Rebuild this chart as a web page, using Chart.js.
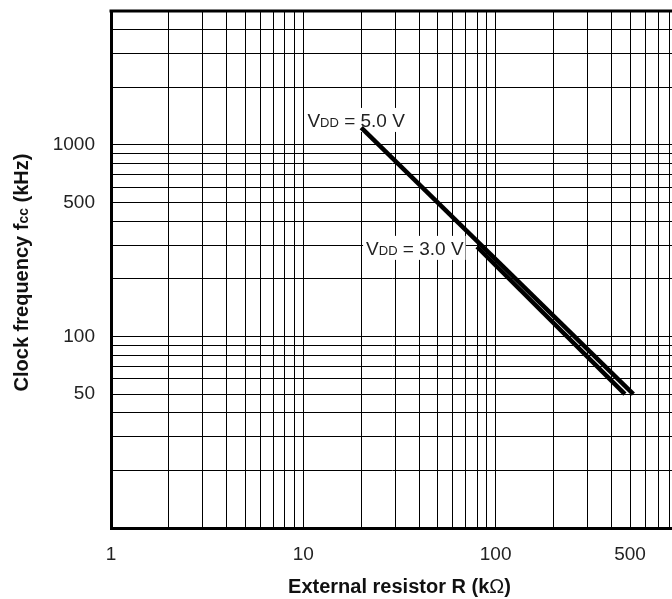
<!DOCTYPE html>
<html lang="en">
<head>
<meta charset="UTF-8">
<title>Clock frequency vs external resistor</title>
<script src="https://cdn.jsdelivr.net/npm/chart.js"></script>
<style>
    html, body { margin: 0; padding: 0; background: #fff; overflow: hidden; }
    #chartBox { position: relative; width: 672px; height: 599px; }
</style>
</head>
<body>

<div id="chartBox"><canvas id="chartContainer"></canvas></div>

<script type="text/javascript">

    // curves: R in kOhm, fcc in kHz
    var resistor5V = [20, 520];
    var freq5V = [1230, 50];
    var resistor3V = [80, 470];
    var freq3V = [294, 50];

    // log axes: every grid line and the ones that carry a number
    var xGrid = [1, 2, 3, 4, 5, 6, 7, 8, 9, 10, 20, 30, 40, 50, 60, 70, 80, 90,
                 100, 200, 300, 400, 500, 600, 700, 800];
    var yGrid = [10, 20, 30, 40, 50, 60, 70, 80, 90, 100, 200, 300, 400, 500, 600, 700, 800, 900,
                 1000, 2000, 3000, 4000, 5000];
    var xTickLabels = [1, 10, 100, 500];
    var yTickLabels = [50, 100, 500, 1000];
    var xMin = 1, xMax = 826;   // the picture is cut just before 1000
    var yMin = 10, yMax = 5000;

    // curve labels and where each text starts (R, fcc)
    var curveLabels = ['5.0 V', '3.0 V'];
    var labelR = [10.5, 21.2];
    var labelF = [1350, 290];

    var fontName = '"Liberation Sans", Arial, sans-serif';

    function toPoints(xs, ys) {
        return xs.map(function (x, i) { return { x: x, y: ys[i] }; });
    }

    // text made of pieces with different fonts (for the subscripts)
    function richWidth(ctx, parts) {
        var w = 0;
        parts.forEach(function (p) { ctx.font = p.f; w += ctx.measureText(p.t).width; });
        return w;
    }
    function drawRich(ctx, parts, x, y) {
        var cx = x;
        ctx.textBaseline = 'alphabetic';
        ctx.textAlign = 'left';
        parts.forEach(function (p) {
            ctx.font = p.f;
            ctx.fillText(p.t, cx, y);
            cx += ctx.measureText(p.t).width;
        });
    }

    // no extra room for the tick labels, the frame sits where the picture has it
    function noPadding(scale) {
        scale.paddingTop = 0;
        scale.paddingBottom = 0;
        scale.paddingLeft = 0;
        scale.paddingRight = 0;
    }

    var textPlugin = {
        id: 'textPlugin',
        beforeDatasetsDraw: function (chart) {
            var ctx = chart.ctx;
            var xs = chart.scales.x, ys = chart.scales.y;
            ctx.save();
            curveLabels.forEach(function (v, i) {
                var px = xs.getPixelForValue(labelR[i]);
                var py = ys.getPixelForValue(labelF[i]);
                var parts = [
                    { t: 'V', f: '19px ' + fontName },
                    { t: 'DD', f: '13px ' + fontName },
                    { t: ' = ' + v, f: '19px ' + fontName }
                ];
                var w = richWidth(ctx, parts);
                ctx.fillStyle = '#fff';
                ctx.fillRect(px - 3, py - 12, w + 5, 24);
                ctx.fillStyle = '#222';
                drawRich(ctx, parts, px, py + 7);
            });
            ctx.restore();
        },
        afterDraw: function (chart) {
            var ctx = chart.ctx;
            var area = chart.chartArea;
            var xs = chart.scales.x;
            ctx.save();

            // top frame line
            ctx.strokeStyle = '#000';
            ctx.lineWidth = 3;
            ctx.beginPath();
            ctx.moveTo(area.left - 1.5, area.top);
            ctx.lineTo(area.right, area.top);
            ctx.stroke();

            // x title, centred on the full 1..1000 decade span
            ctx.fillStyle = '#111';
            var xParts = [
                { t: 'External resistor R (k', f: 'bold 20px ' + fontName },
                { t: 'Ω', f: '20px ' + fontName },
                { t: ')', f: 'bold 20px ' + fontName }
            ];
            var mid = (xs.getPixelForValue(1) + xs.getPixelForValue(1000)) / 2;
            drawRich(ctx, xParts, mid - richWidth(ctx, xParts) / 2, 593);

            // y title, rotated
            var yParts = [
                { t: 'Clock frequency f', f: 'bold 20px ' + fontName },
                { t: 'cc', f: 'bold 14px ' + fontName },
                { t: ' (kHz)', f: 'bold 20px ' + fontName }
            ];
            var cy = (area.top + area.bottom) / 2 + 3;
            ctx.translate(28, cy);
            ctx.rotate(-Math.PI / 2);
            drawRich(ctx, yParts, -richWidth(ctx, yParts) / 2, 0);
            ctx.restore();
        }
    };

    var ctx = document.getElementById('chartContainer');
    var chart = new Chart(ctx, {
        type: 'line',
        data: {
            datasets: [
                {
                    label: 'VDD = 5.0 V',
                    data: toPoints(resistor5V, freq5V),
                    borderColor: '#000',
                    borderWidth: 4.5,
                    borderCapStyle: 'butt',
                    pointRadius: 0,
                    pointHoverRadius: 0,
                    fill: false
                },
                {
                    label: 'VDD = 3.0 V',
                    data: toPoints(resistor3V, freq3V),
                    borderColor: '#000',
                    borderWidth: 4.5,
                    borderCapStyle: 'butt',
                    pointRadius: 0,
                    pointHoverRadius: 0,
                    fill: false
                }
            ]
        },
        options: {
            responsive: true,
            maintainAspectRatio: false,
            animation: false,
            layout: { autoPadding: false, padding: { top: 11, right: 0, bottom: 0, left: 0 } },
            plugins: {
                legend: { display: false },
                tooltip: { enabled: false }
            },
            scales: {
                x: {
                    type: 'logarithmic',
                    min: xMin,
                    max: xMax,
                    afterBuildTicks: function (scale) {
                        scale.ticks = xGrid.map(function (v) { return { value: v }; });
                    },
                    afterFit: function (scale) { scale.height = 71; noPadding(scale); },
                    ticks: {
                        autoSkip: false,
                        maxRotation: 0,
                        padding: 15,
                        color: '#222',
                        font: { family: fontName, size: 19 },
                        callback: function (value) {
                            return xTickLabels.indexOf(value) >= 0 ? String(value) : '';
                        }
                    },
                    grid: { color: '#000', lineWidth: 1, drawTicks: false },
                    border: { display: true, color: '#000', width: 3 }
                },
                y: {
                    type: 'logarithmic',
                    min: yMin,
                    max: yMax,
                    afterBuildTicks: function (scale) {
                        scale.ticks = yGrid.map(function (v) { return { value: v }; });
                    },
                    afterFit: function (scale) { scale.width = 111; noPadding(scale); },
                    ticks: {
                        autoSkip: false,
                        padding: 16,
                        color: '#222',
                        font: { family: fontName, size: 19 },
                        callback: function (value) {
                            return yTickLabels.indexOf(value) >= 0 ? String(value) : '';
                        }
                    },
                    grid: { color: '#000', lineWidth: 1, drawTicks: false },
                    border: { display: true, color: '#000', width: 3 }
                }
            }
        },
        plugins: [textPlugin]
    });

</script>
</body>
</html>
